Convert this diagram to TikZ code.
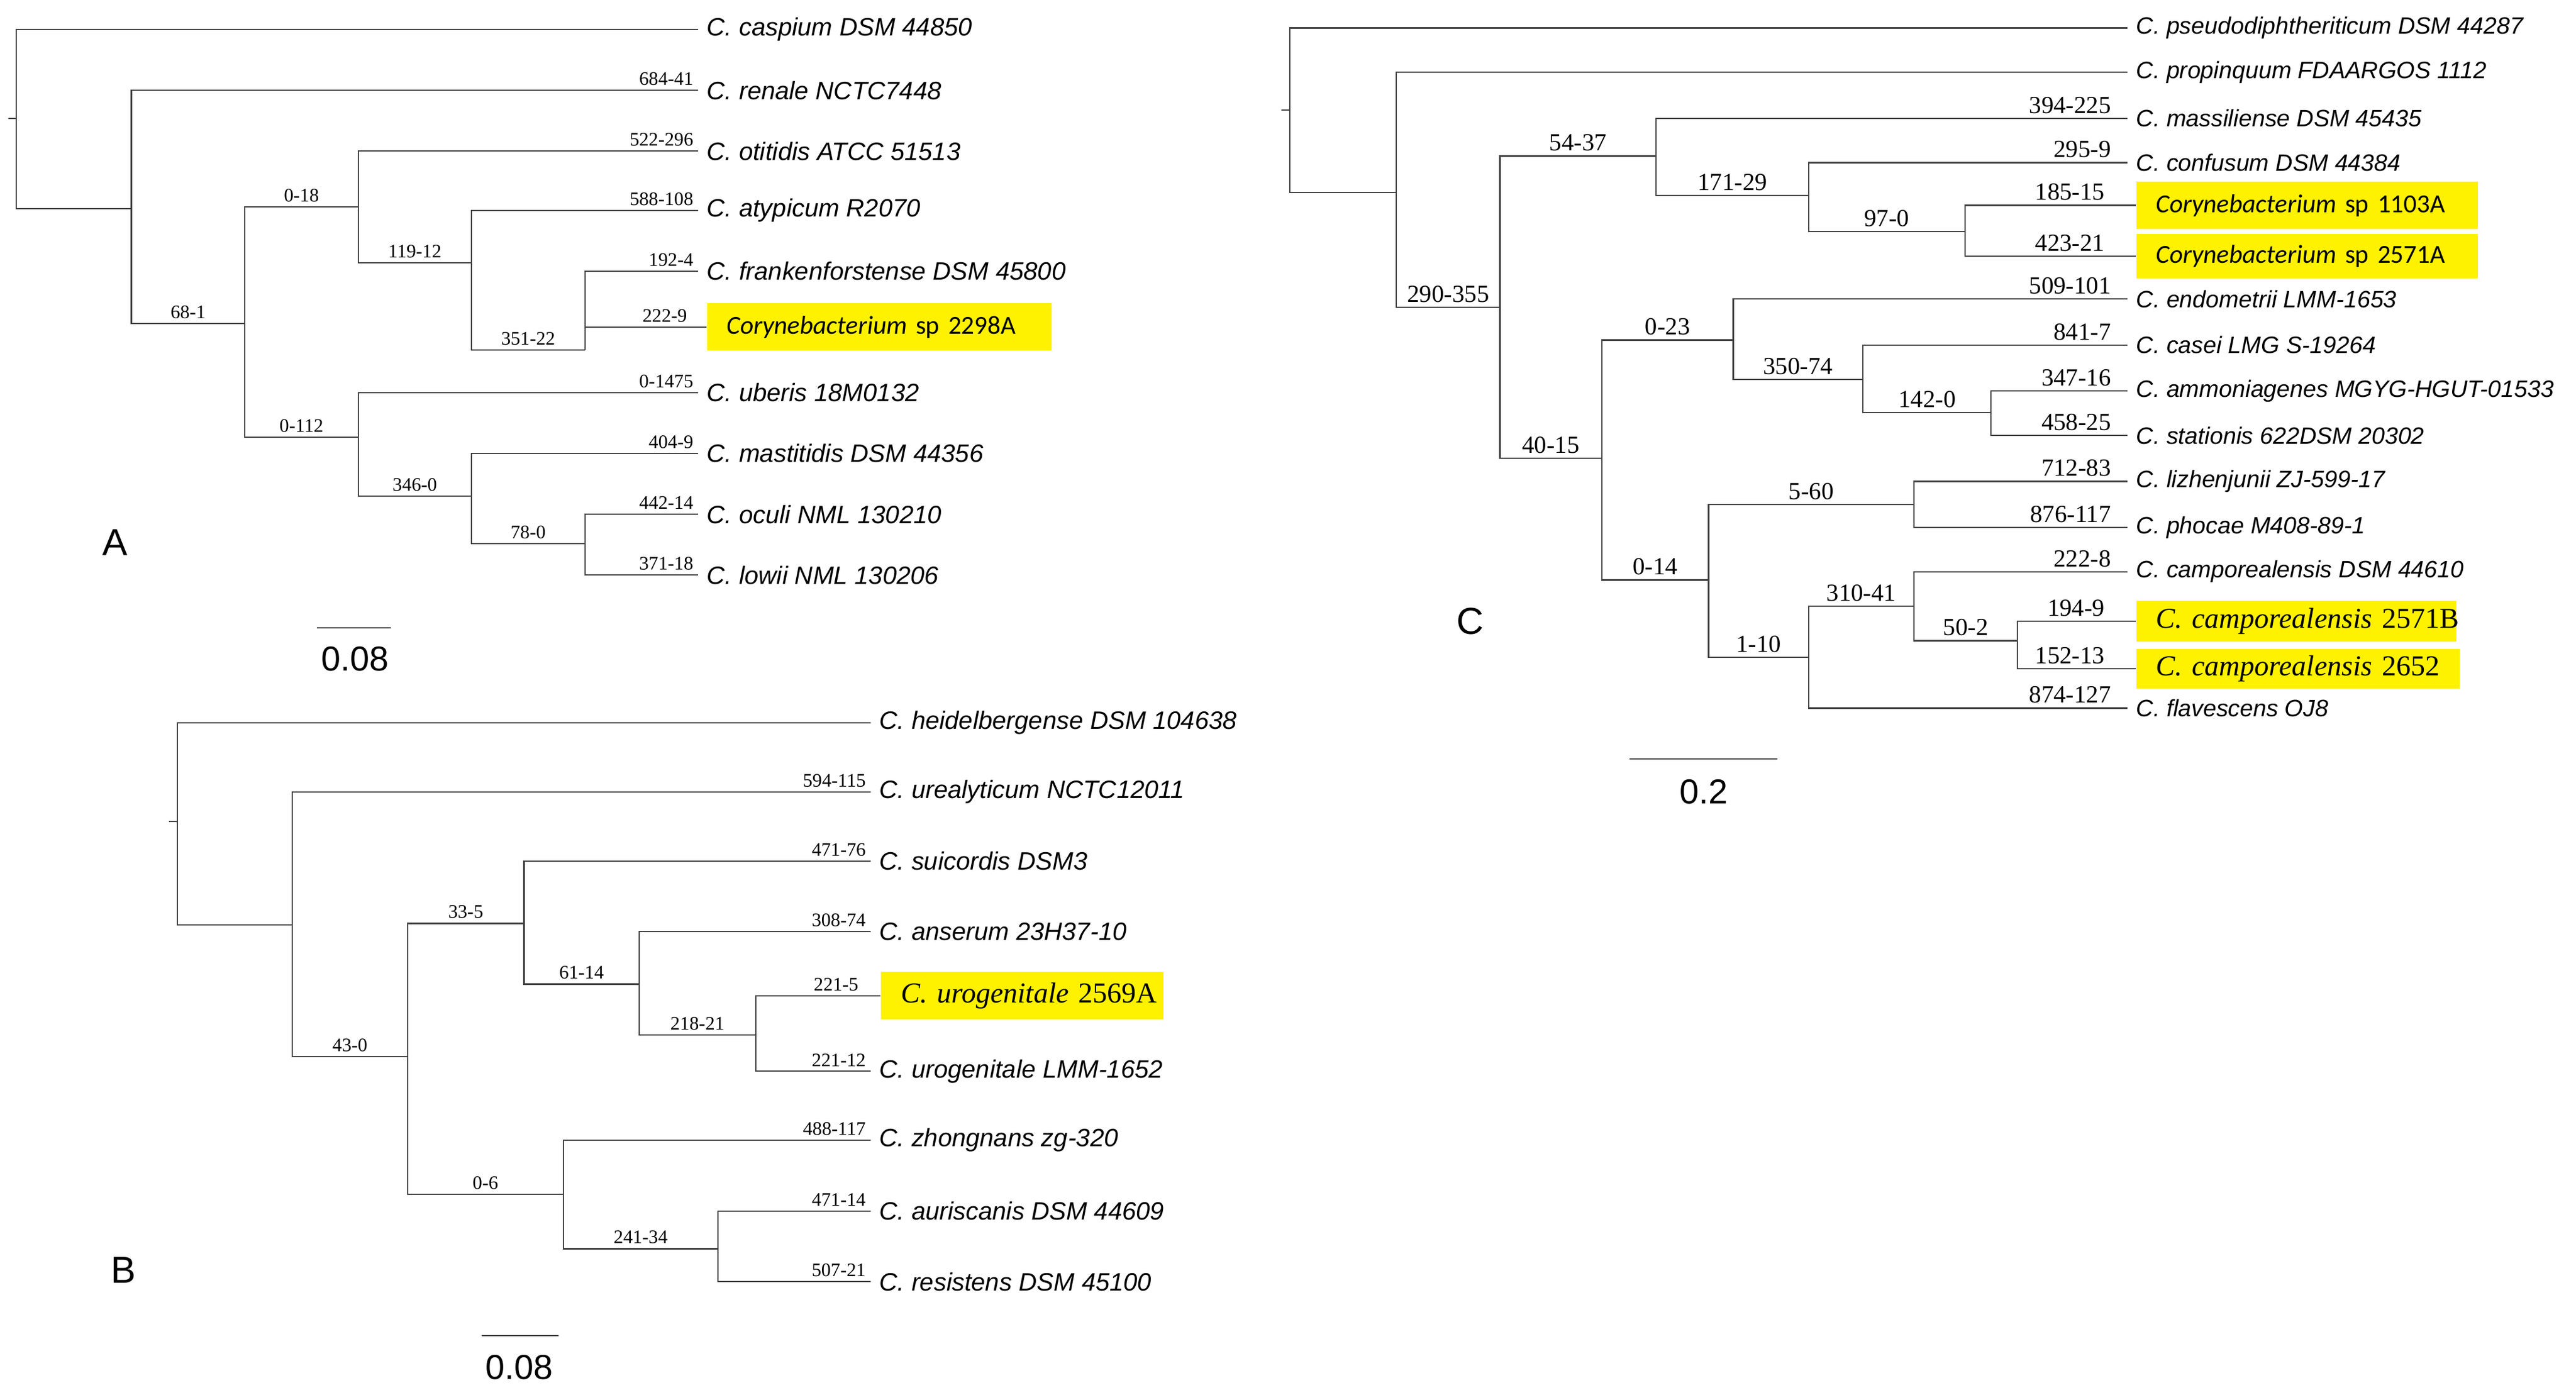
\documentclass[tikz,border=0pt]{standalone}
\usepackage{fontspec}
\setmainfont{Liberation Serif}
\newfontfamily\hv{Liberation Sans}
\newfontfamily\cb{Carlito}
\usetikzlibrary{positioning}

\begin{document}
\begin{tikzpicture}[x=0.02cm, y=-0.02cm,
    br/.style={draw=black!75, line width=0.45pt},
    leaf/.style={anchor=west, inner xsep=0.1cm, inner ysep=1pt, font=\hv\itshape\fontsize{8.7}{10}\selectfont},
    leafC/.style={leaf, font=\hv\itshape\fontsize{8.2}{10}\selectfont},
    hl/.style={anchor=west, fill=yellow, inner xsep=0.24cm, inner ysep=0pt, minimum height=0.58cm, font=\fontsize{9}{11}\selectfont},
    bsA/.style={font=\fontsize{6.6}{7}\selectfont, inner sep=1.5pt},
    bsC/.style={font=\fontsize{8.5}{9}\selectfont, inner sep=1.5pt},
    tag/.style={font=\hv\fontsize{13}{14}\selectfont},
    bar/.style={font=\hv\fontsize{12}{13}\selectfont},
]
\useasboundingbox (0,0) rectangle (1568,852);

% ---------- panel A
\coordinate (rootA) at (10,72);
\coordinate (stubA) at (5,72);
\coordinate (a1) at (80,127);
\coordinate (a68) at (149,197);
\coordinate (a018) at (218,126);
\coordinate (a119) at (287,160);
\coordinate (a351) at (356,213);
\coordinate (a0112) at (218,266);
\coordinate (a346) at (287,302);
\coordinate (a780) at (356,331);

\node[leaf] (caspium) at (425,18) {C. caspium DSM 44850};
\node[leaf] (renale) at (425,55) {C. renale NCTC7448};
\node[leaf] (otitidis) at (425,92) {C. otitidis ATCC 51513};
\node[leaf] (atypicum) at (425,128) {C. atypicum R2070};
\node[leaf] (frank) at (425,165) {C. frankenforstense DSM 45800};
\node[hl, text width=3.72cm] (sp2298) at (430,199) {\mbox{\cb\itshape Corynebacterium\upshape\ sp 2298A}};
\node[leaf] (uberis) at (425,239) {C. uberis 18M0132};
\node[leaf] (mastitidis) at (425,276) {C. mastitidis DSM 44356};
\node[leaf] (oculi) at (425,313) {C. oculi NML 130210};
\node[leaf] (lowii) at (425,350) {C. lowii NML 130206};

\draw[br] (stubA) -- (rootA);
\draw[br] (rootA) |- (caspium.west);
\draw[br] (rootA) |- (a1);
\draw[br] (a1) |- (renale.west) node[bsA, anchor=south east, pos=1] {684-41};
\draw[br] (a1) |- (a68) node[bsA, above, pos=0.75] {68-1};
\draw[br] (a68) |- (a018) node[bsA, above, pos=0.75] {0-18};
\draw[br] (a018) |- (otitidis.west) node[bsA, anchor=south east, pos=1] {522-296};
\draw[br] (a018) |- (a119) node[bsA, above, pos=0.75] {119-12};
\draw[br] (a119) |- (atypicum.west) node[bsA, anchor=south east, pos=1] {588-108};
\draw[br] (a119) |- (a351) node[bsA, above, pos=0.75] {351-22};
\draw[br] (a351) |- (frank.west) node[bsA, anchor=south east, pos=1] {192-4};
\draw[br] (a351) |- (sp2298.west) node[bsA, anchor=south east, pos=1, xshift=-5] {222-9};
\draw[br] (a68) |- (a0112) node[bsA, above, pos=0.75] {0-112};
\draw[br] (a0112) |- (uberis.west) node[bsA, anchor=south east, pos=1] {0-1475};
\draw[br] (a0112) |- (a346) node[bsA, above, pos=0.75] {346-0};
\draw[br] (a346) |- (mastitidis.west) node[bsA, anchor=south east, pos=1] {404-9};
\draw[br] (a346) |- (a780) node[bsA, above, pos=0.75] {78-0};
\draw[br] (a780) |- (oculi.west) node[bsA, anchor=south east, pos=1] {442-14};
\draw[br] (a780) |- (lowii.west) node[bsA, anchor=south east, pos=1] {371-18};

\node[tag] (labA) at (70,330) {A};
\coordinate (sbA1) at (193,382);
\coordinate (sbA2) at (238,382);
\draw[br] (sbA1) -- (sbA2);
\node[bar] (sbA) at (216,401) {0.08};

% ---------- panel B
\coordinate (rootB) at (108,500);
\coordinate (stubB) at (103,500);
\coordinate (b1) at (178,563);
\coordinate (b430) at (248,643);
\coordinate (b335) at (319,562);
\coordinate (b6114) at (389,599);
\coordinate (b218) at (460,630);
\coordinate (b06) at (343,727);
\coordinate (b241) at (437,760);

\node[leaf] (heidel) at (530,440) {C. heidelbergense DSM 104638};
\node[leaf] (urealyt) at (530,482) {C. urealyticum NCTC12011};
\node[leaf] (suicordis) at (530,524) {C. suicordis DSM3};
\node[leaf] (anserum) at (530,567) {C. anserum 23H37-10};
\node[hl, text width=2.96cm, font=\fontsize{10}{11}\selectfont] (uro2569) at (536,606) {\mbox{\textit{C. urogenitale} 2569A}};
\node[leaf] (uroLMM) at (530,652) {C. urogenitale LMM-1652};
\node[leaf] (zhong) at (530,694) {C. zhongnans zg-320};
\node[leaf] (aurisc) at (530,737) {C. auriscanis DSM 44609};
\node[leaf] (resist) at (530,780) {C. resistens DSM 45100};

\draw[br] (stubB) -- (rootB);
\draw[br] (rootB) |- (heidel.west);
\draw[br] (rootB) |- (b1);
\draw[br] (b1) |- (urealyt.west) node[bsA, anchor=south east, pos=1] {594-115};
\draw[br] (b1) |- (b430) node[bsA, above, pos=0.75] {43-0};
\draw[br] (b430) |- (b335) node[bsA, above, pos=0.75] {33-5};
\draw[br] (b335) |- (suicordis.west) node[bsA, anchor=south east, pos=1] {471-76};
\draw[br] (b335) |- (b6114) node[bsA, above, pos=0.75] {61-14};
\draw[br] (b6114) |- (anserum.west) node[bsA, anchor=south east, pos=1] {308-74};
\draw[br] (b6114) |- (b218) node[bsA, above, pos=0.75] {218-21};
\draw[br] (b218) |- (uro2569.west) node[bsA, anchor=south east, pos=1, xshift=-6] {221-5};
\draw[br] (b218) |- (uroLMM.west) node[bsA, anchor=south east, pos=1] {221-12};
\draw[br] (b430) |- (b06) node[bsA, above, pos=0.75] {0-6};
\draw[br] (b06) |- (zhong.west) node[bsA, anchor=south east, pos=1] {488-117};
\draw[br] (b06) |- (b241) node[bsA, above, pos=0.75] {241-34};
\draw[br] (b241) |- (aurisc.west) node[bsA, anchor=south east, pos=1] {471-14};
\draw[br] (b241) |- (resist.west) node[bsA, anchor=south east, pos=1] {507-21};

\node[tag] (labB) at (75,773) {B};
\coordinate (sbB1) at (293,813);
\coordinate (sbB2) at (340,813);
\draw[br] (sbB1) -- (sbB2);
\node[bar] (sbB) at (316,832) {0.08};

% ---------- panel C
\coordinate (rootC) at (785,67);
\coordinate (stubC) at (780,67);
\coordinate (c1) at (850,117);
\coordinate (c290) at (913,187);
\coordinate (c54) at (1008,95);
\coordinate (c171) at (1101,119);
\coordinate (c97) at (1196,141);
\coordinate (c40) at (975,279);
\coordinate (c023) at (1055,207);
\coordinate (c350) at (1134,231);
\coordinate (c142) at (1212,251);
\coordinate (c014) at (1040,353);
\coordinate (c560) at (1165,307);
\coordinate (c110) at (1101,400);
\coordinate (c310) at (1165,369);
\coordinate (c502) at (1228,390);

\node[leafC] (pseudo) at (1295,17) {C. pseudodiphtheriticum DSM 44287};
\node[leafC] (propinq) at (1295,44) {C. propinquum FDAARGOS 1112};
\node[leafC] (massil) at (1295,72) {C. massiliense DSM 45435};
\node[leafC] (confus) at (1295,99) {C. confusum DSM 44384};
\node[hl, text width=3.68cm] (sp1103) at (1300,125) {\mbox{\cb\itshape Corynebacterium\upshape\ sp 1103A}};
\node[hl, text width=3.68cm, minimum height=0.54cm] (sp2571) at (1300,156) {\mbox{\cb\itshape Corynebacterium\upshape\ sp 2571A}};
\node[leafC] (endom) at (1295,182) {C. endometrii LMM-1653};
\node[leafC] (casei) at (1295,210) {C. casei LMG S-19264};
\node[leafC] (ammon) at (1295,238) {C. ammoniagenes MGYG-HGUT-01533};
\node[leafC] (station) at (1295,265) {C. stationis 622DSM 20302};
\node[leafC] (lizhen) at (1295,293) {C. lizhenjunii ZJ-599-17};
\node[leafC] (phocae) at (1295,321) {C. phocae M408-89-1};
\node[leafC] (campDSM) at (1295,348) {C. camporealensis DSM 44610};
\node[hl, text width=3.42cm, minimum height=0.5cm, font=\fontsize{10}{11}\selectfont] (c2571B) at (1300,378) {\mbox{\textit{C. camporealensis} 2571B}};
\node[hl, text width=3.46cm, minimum height=0.48cm, font=\fontsize{10}{11}\selectfont] (c2652) at (1300,407) {\mbox{\textit{C. camporealensis} 2652}};
\node[leafC] (flavesc) at (1295,431) {C. flavescens OJ8};

\draw[br] (stubC) -- (rootC);
\draw[br] (rootC) |- (pseudo.west);
\draw[br] (rootC) |- (c1);
\draw[br] (c1) |- (propinq.west);
\draw[br] (c1) |- (c290) node[bsC, above, pos=0.75] {290-355};
\draw[br] (c290) |- (c54) node[bsC, above, pos=0.75] {54-37};
\draw[br] (c54) |- (massil.west) node[bsC, anchor=south east, pos=1, xshift=-4] {394-225};
\draw[br] (c54) |- (c171) node[bsC, above, pos=0.75] {171-29};
\draw[br] (c171) |- (confus.west) node[bsC, anchor=south east, pos=1, xshift=-4] {295-9};
\draw[br] (c171) |- (c97) node[bsC, above, pos=0.75] {97-0};
\draw[br] (c97) |- (sp1103.west) node[bsC, anchor=south east, pos=1, xshift=-9] {185-15};
\draw[br] (c97) |- (sp2571.west) node[bsC, anchor=south east, pos=1, xshift=-9] {423-21};
\draw[br] (c290) |- (c40) node[bsC, above, pos=0.75] {40-15};
\draw[br] (c40) |- (c023) node[bsC, above, pos=0.75] {0-23};
\draw[br] (c023) |- (endom.west) node[bsC, anchor=south east, pos=1, xshift=-4] {509-101};
\draw[br] (c023) |- (c350) node[bsC, above, pos=0.75] {350-74};
\draw[br] (c350) |- (casei.west) node[bsC, anchor=south east, pos=1, xshift=-4] {841-7};
\draw[br] (c350) |- (c142) node[bsC, above, pos=0.75] {142-0};
\draw[br] (c142) |- (ammon.west) node[bsC, anchor=south east, pos=1, xshift=-4] {347-16};
\draw[br] (c142) |- (station.west) node[bsC, anchor=south east, pos=1, xshift=-4] {458-25};
\draw[br] (c40) |- (c014) node[bsC, above, pos=0.75] {0-14};
\draw[br] (c014) |- (c560) node[bsC, above, pos=0.75] {5-60};
\draw[br] (c560) |- (lizhen.west) node[bsC, anchor=south east, pos=1, xshift=-4] {712-83};
\draw[br] (c560) |- (phocae.west) node[bsC, anchor=south east, pos=1, xshift=-4] {876-117};
\draw[br] (c014) |- (c110) node[bsC, above, pos=0.75] {1-10};
\draw[br] (c110) |- (c310) node[bsC, above, pos=0.75] {310-41};
\draw[br] (c310) |- (campDSM.west) node[bsC, anchor=south east, pos=1, xshift=-4] {222-8};
\draw[br] (c310) |- (c502) node[bsC, above, pos=0.75] {50-2};
\draw[br] (c502) |- (c2571B.west) node[bsC, anchor=south east, pos=1, xshift=-9] {194-9};
\draw[br] (c502) |- (c2652.west) node[bsC, anchor=south east, pos=1, xshift=-9] {152-13};
\draw[br] (c110) |- (flavesc.west) node[bsC, anchor=south east, pos=1, xshift=-4] {874-127};

\node[tag] (labC) at (895,378) {C};
\coordinate (sbC1) at (992,462);
\coordinate (sbC2) at (1082,462);
\draw[br] (sbC1) -- (sbC2);
\node[bar] (sbC) at (1037,482) {0.2};
\end{tikzpicture}
\end{document}
